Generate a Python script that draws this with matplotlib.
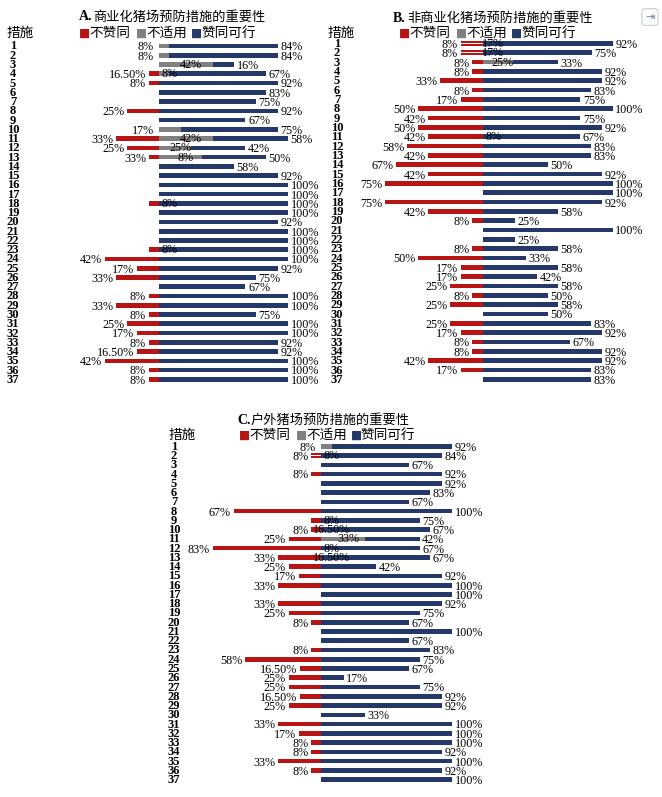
import numpy as np
import matplotlib
matplotlib.use('Agg')
import matplotlib.pyplot as plt
from matplotlib.transforms import blended_transform_factory

RED = '#B81414'
GRAY = '#808080'
BLUE = '#24396A'
SERIF = 'Liberation Serif'
CJK = ['Noto Sans CJK SC', 'DejaVu Sans']

rows = list(range(1, 38))

# A. 商业化猪场
red_A = [0, 0, 0, 8, 8, 0, 0, 25, 0, 0, 33, 25, 8, 0, 0, 0, 0, 8, 0, 0, 0, 0, 8, 42, 17, 33, 0, 8, 33, 8, 25, 17, 8, 17, 42, 8, 8]
gray_A = [8, 8, 42, 8, 0, 0, 0, 0, 0, 17, 42, 25, 33, 0, 0, 0, 0, 0, 0, 0, 0, 0, 0, 0, 0, 0, 0, 0, 0, 0, 0, 0, 0, 0, 0, 0, 0]
blue_A = [84, 84, 16, 75, 92, 83, 75, 92, 67, 75, 58, 42, 50, 58, 92, 100, 100, 100, 100, 92, 100, 100, 100, 100, 92, 75, 67, 100, 100, 75, 100, 100, 92, 92, 100, 100, 100]
left_A = ['8%', '8%', '', '16.50%', '8%', '', '', '25%', '', '17%', '33%', '25%', '33%', '', '', '', '', '', '', '', '', '', '', '42%', '17%', '33%', '', '8%', '33%', '8%', '25%', '17%', '8%', '16.50%', '42%', '8%', '8%']
mid_A = ['', '', '42%', '8%', '', '', '', '', '', '', '42%', '25%', '8%', '', '', '', '', '8%', '', '', '', '', '8%', '', '', '', '', '', '', '', '', '', '', '', '', '', '']
right_A = ['84%', '84%', '16%', '67%', '92%', '83%', '75%', '92%', '67%', '75%', '58%', '42%', '50%', '58%', '92%', '100%', '100%', '100%', '100%', '92%', '100%', '100%', '100%', '100%', '92%', '75%', '67%', '100%', '100%', '75%', '100%', '100%', '92%', '92%', '100%', '100%', '100%']
hollow_A = []

# B. 非商业化猪场
red_B = [17, 17, 8, 8, 33, 8, 17, 50, 42, 50, 42, 58, 42, 67, 42, 75, 0, 75, 42, 8, 0, 0, 8, 50, 17, 17, 25, 8, 25, 0, 25, 17, 8, 8, 42, 17, 0]
gray_B = [0, 0, 23, 0, 0, 0, 0, 0, 0, 0, 0, 0, 0, 0, 0, 0, 0, 0, 0, 0, 0, 0, 0, 0, 0, 0, 0, 0, 0, 0, 0, 0, 0, 0, 0, 0, 0]
blue_B = [100, 84, 35, 92, 92, 83, 75, 100, 75, 92, 75, 83, 83, 50, 92, 100, 100, 92, 58, 25, 100, 25, 58, 33, 58, 42, 58, 50, 58, 50, 83, 92, 67, 92, 92, 83, 83]
left_B = ['8%', '8%', '8%', '8%', '33%', '8%', '17%', '50%', '42%', '50%', '42%', '58%', '42%', '67%', '42%', '75%', '', '75%', '42%', '8%', '', '', '8%', '50%', '17%', '17%', '25%', '8%', '25%', '', '25%', '17%', '8%', '8%', '42%', '17%', '']
mid_B = ['17%', '17%', '25%', '', '', '', '', '', '', '', '8%', '', '', '', '', '', '', '', '', '', '', '', '', '', '', '', '', '', '', '', '', '', '', '', '', '', '']
right_B = ['92%', '75%', '33%', '92%', '92%', '83%', '75%', '100%', '75%', '92%', '67%', '83%', '83%', '50%', '92%', '100%', '100%', '92%', '58%', '25%', '100%', '25%', '58%', '33%', '58%', '42%', '58%', '50%', '58%', '50%', '83%', '92%', '67%', '92%', '92%', '83%', '83%']
hollow_B = [1, 2]

# C. 户外猪场
red_C = [0, 8, 0, 8, 0, 0, 0, 67, 8, 8, 25, 83, 33, 25, 17, 33, 0, 33, 25, 8, 0, 0, 8, 58, 16.5, 25, 25, 16.5, 25, 0, 33, 17, 8, 8, 33, 8, 0]
gray_C = [8, 0, 0, 0, 0, 0, 0, 0, 0, 0, 33, 0, 0, 0, 0, 0, 0, 0, 0, 0, 0, 0, 0, 0, 0, 0, 0, 0, 0, 0, 0, 0, 0, 0, 0, 0, 0]
blue_C = [92, 92, 67, 92, 92, 83, 67, 100, 75, 83, 42, 75, 83, 42, 92, 100, 100, 92, 75, 67, 100, 67, 83, 75, 67, 17, 75, 92, 92, 33, 100, 100, 100, 92, 100, 92, 100]
left_C = ['8%', '8%', '', '8%', '', '', '', '67%', '', '8%', '25%', '83%', '33%', '25%', '17%', '33%', '', '33%', '25%', '8%', '', '', '8%', '58%', '16.50%', '25%', '25%', '16.50%', '25%', '', '33%', '17%', '8%', '8%', '33%', '8%', '']
mid_C = ['', '8%', '', '', '', '', '', '', '8%', '16.50%', '33%', '8%', '16.50%', '', '', '', '', '', '', '', '', '', '', '', '', '', '', '', '', '', '', '', '', '', '', '', '']
right_C = ['92%', '84%', '67%', '92%', '92%', '83%', '67%', '100%', '75%', '67%', '42%', '67%', '67%', '42%', '92%', '100%', '100%', '92%', '75%', '67%', '100%', '67%', '83%', '75%', '67%', '17%', '75%', '92%', '92%', '33%', '100%', '100%', '100%', '92%', '100%', '92%', '100%']
hollow_C = [2]

W, H = 662, 797
fig = plt.figure(figsize=(W / 100, H / 100), dpi=100)


def panel(box, center, scale, row1, step):
    L, T, R, B = box
    ax = fig.add_axes([L / W, 1 - B / H, (R - L) / W, (B - T) / H])
    ax.set_xlim((L - center) / scale, (R - center) / scale)
    ax.set_ylim(1 + (B - row1) / step, 1 + (T - row1) / step)
    ax.axis('off')
    return ax


def draw(ax, red, gray, blue, left, mid, right, hollow, num_x):
    ax.barh(rows, [-v for v in red], height=0.5, color=RED)
    ax.barh(rows, gray, height=0.5, color=GRAY)
    ax.barh(rows, blue, left=gray, height=0.5, color=BLUE)
    for r in hollow:
        ax.barh(r, -red[r - 1], height=0.14, color='white')
    fs = 8.7
    for i, r in enumerate(rows):
        if left[i]:
            x = -red[i] - 2 if red[i] > 0 else -4
            ax.text(x, r + 0.15, left[i], ha='right', va='center', fontsize=fs, family=SERIF)
        if mid[i]:
            x = gray[i] / 2 + 4 if gray[i] > 0 else 8
            ax.text(x, r + 0.05, mid[i], ha='center', va='center', fontsize=fs, family=SERIF)
        if right[i]:
            ax.text(gray[i] + blue[i] + 2, r + 0.15, right[i], ha='left', va='center', fontsize=fs, family=SERIF)
    tr = blended_transform_factory(fig.transFigure, ax.transData)
    for r in rows:
        ax.text(num_x / W, r + 0.05, str(r), transform=tr, ha='center', va='center',
                fontsize=9, family=SERIF, fontweight='bold')


def header(tx, ty, letter, title, cx, lx, ly):
    fig.text(tx / W, 1 - ty / H, letter, fontsize=10, family=SERIF, fontweight='bold', va='center')
    fig.text((tx + 14) / W, 1 - ty / H, title, fontsize=9.5, family=CJK, va='center')
    fig.text(cx / W, 1 - ly / H, '措施', fontsize=9.8, family=CJK, va='center')
    items = [('不赞同', RED, 0), ('不适用', GRAY, 57), ('赞同可行', BLUE, 112)]
    for name, col, dx in items:
        fig.text((lx + dx) / W, 1 - ly / H, '■', fontsize=8.5, color=col, family='DejaVu Sans', va='center')
        fig.text((lx + dx + 10) / W, 1 - ly / H, name, fontsize=9.8, family=CJK, va='center')


axA = panel((0, 0, 330, 395), 159, 1.29, 46, 9.26)
draw(axA, red_A, gray_A, blue_A, left_A, mid_A, right_A, hollow_A, 13)
header(79, 17, 'A.', '商业化猪场预防措施的重要性', 7, 79, 33)

axB = panel((330, 0, 662, 395), 482.7, 1.30, 43.5, 9.33)
draw(axB, red_B, gray_B, blue_B, left_B, mid_B, right_B, hollow_B, 337)
header(393, 18, 'B.', '非商业化猪场预防措施的重要性', 328, 399, 33)

axC = panel((160, 400, 500, 797), 321.3, 1.31, 446.3, 9.26)
draw(axC, red_C, gray_C, blue_C, left_C, mid_C, right_C, hollow_C, 174)
header(237, 420, 'C.', '户外猪场预防措施的重要性', 169, 239, 435)

fig.text(650 / W, 1 - 17 / H, '⇥', fontsize=8, color='#7080A8', family='DejaVu Sans',
         ha='center', va='center',
         bbox=dict(boxstyle='round,pad=0.3', fc='white', ec='#C8CCD8', lw=0.8))

fig.savefig('out.png', dpi=100)
